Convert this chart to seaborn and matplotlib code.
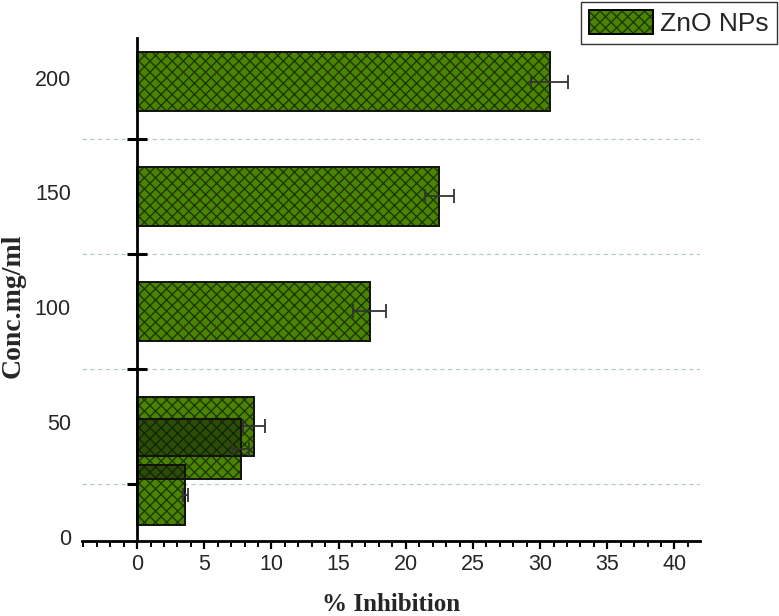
import matplotlib
matplotlib.use("Agg")
import matplotlib.pyplot as plt
import matplotlib.patches as mpatches
from matplotlib.transforms import Bbox, ScaledTranslation
from matplotlib.ticker import MultipleLocator, NullFormatter
import pandas as pd
import seaborn as sns

# values
conc = [200, 150, 100, 50, 40, 20]
inhibition = [30.7, 22.5, 17.3, 8.7, 7.7, 3.6]
inhibition_err = [1.4, 1.1, 1.2, 0.8, 0.6, 0.2]
y_major = [0, 50, 100, 150, 200]
y_minor = [25, 75, 125, 175]
x_major = [0, 5, 10, 15, 20, 25, 30, 35, 40]
series_name = "ZnO NPs"

face_green = "#4a8400"
hatch_green = "#1d3800"
overlap_face = "#2b4d05"
overlap_hatch = "#142600"

sns.set_style("white")
plt.rcParams["font.family"] = ["Liberation Sans", "DejaVu Sans"]
plt.rcParams["hatch.linewidth"] = 1.0

df = pd.DataFrame({"conc": conc, "inhibition": inhibition})

xmin, xmax = -4.1, 41.9
fig = plt.figure(figsize=(7.79, 6.16), dpi=100)
ax = fig.add_axes([82 / 779, 75 / 616, 618 / 779, 503 / 616])

sns.barplot(data=df, x="inhibition", y="conc", orient="y", native_scale=True,
            width=2.58, color=face_green, errorbar=None, ax=ax)

bars = list(ax.patches)
for p in bars:
    p.set_facecolor(face_green)
    p.set_edgecolor(hatch_green)
    p.set_linewidth(0)
    p.set_hatch("xxx")

# darker where bars overlap
for i in range(len(bars)):
    for j in range(i + 1, len(bars)):
        inter = Bbox.intersection(bars[i].get_bbox(), bars[j].get_bbox())
        if inter is not None and inter.width > 0 and inter.height > 0:
            ax.add_patch(mpatches.Rectangle((inter.x0, inter.y0), inter.width, inter.height,
                                            facecolor=overlap_face, edgecolor=overlap_hatch,
                                            hatch="xxx", linewidth=0, zorder=2.1))

for p in bars:
    ax.add_patch(mpatches.Rectangle(p.get_xy(), p.get_width(), p.get_height(),
                                    fill=False, edgecolor="#111111", linewidth=1.4, zorder=2.2))

ax.errorbar(inhibition, conc, xerr=inhibition_err, fmt="none", ecolor="#333333",
            elinewidth=1.3, capsize=5, capthick=1.3, zorder=3)

ax.set_xlim(xmin, xmax)
ax.set_ylim(0, 219)

for s in ["top", "right"]:
    ax.spines[s].set_visible(False)
ax.spines["bottom"].set_linewidth(2)
ax.spines["bottom"].set_color("black")
ax.spines["left"].set_position(("data", 0))
ax.spines["left"].set_linewidth(2)
ax.spines["left"].set_color("black")

ax.set_xticks(x_major)
ax.xaxis.set_minor_locator(MultipleLocator(1))
ax.tick_params(axis="x", which="major", direction="out", length=6, width=1.6,
               labelsize=15.5, pad=3, color="black", bottom=True)
ax.tick_params(axis="x", which="minor", direction="out", length=4, width=1.4,
               color="black", bottom=True)

# crossing ticks on the x = 0 axis line, dashed grid at the same heights
ax.set_yticks(y_minor)
ax.yaxis.set_major_formatter(NullFormatter())
ax.tick_params(axis="y", which="major", direction="inout", length=14, width=2.2,
               color="black", left=True)
ax.grid(which="major", axis="y", linestyle=(0, (4, 3)), color="#b4c8c8", linewidth=0.8)
ax.grid(which="major", axis="x", visible=False)
ax.set_axisbelow(True)

# tick labels sit at the left edge of the frame
lab_axis = ax.secondary_yaxis(0)
lab_axis.spines["left"].set_visible(False)
lab_axis.set_yticks(y_major)
lab_axis.tick_params(axis="y", which="major", length=0, labelsize=15.5, pad=8)
lab_axis.tick_params(axis="y", which="minor", length=0)
lift = ScaledTranslation(0, 4 / 100, fig.dpi_scale_trans)
for lab in lab_axis.get_yticklabels():
    lab.set_transform(lab.get_transform() + lift)

ax.set_xlabel("% Inhibition", family=["Liberation Serif", "DejaVu Serif"],
              fontweight="bold", fontsize=18, labelpad=13)
ax.set_ylabel("Conc.mg/ml", family=["Liberation Serif", "DejaVu Serif"],
              fontweight="bold", fontsize=20)
ax.yaxis.set_label_coords((26 - 82) / 618, (541.4 - 306) / 503)

handle = (mpatches.Patch(facecolor=face_green, edgecolor=hatch_green, hatch="xxx", linewidth=0),
          mpatches.Patch(fill=False, edgecolor="black", linewidth=1.4))
leg = fig.legend([handle], [series_name], loc="upper right",
                 bbox_to_anchor=(777 / 779, 1 - 2 / 616), fontsize=19,
                 frameon=True, fancybox=False, edgecolor="black", borderpad=0.3,
                 handlelength=2.4, handleheight=1.0, handletextpad=0.3, borderaxespad=0)
leg.get_frame().set_linewidth(1.0)

fig.savefig("out.png", dpi=100)
